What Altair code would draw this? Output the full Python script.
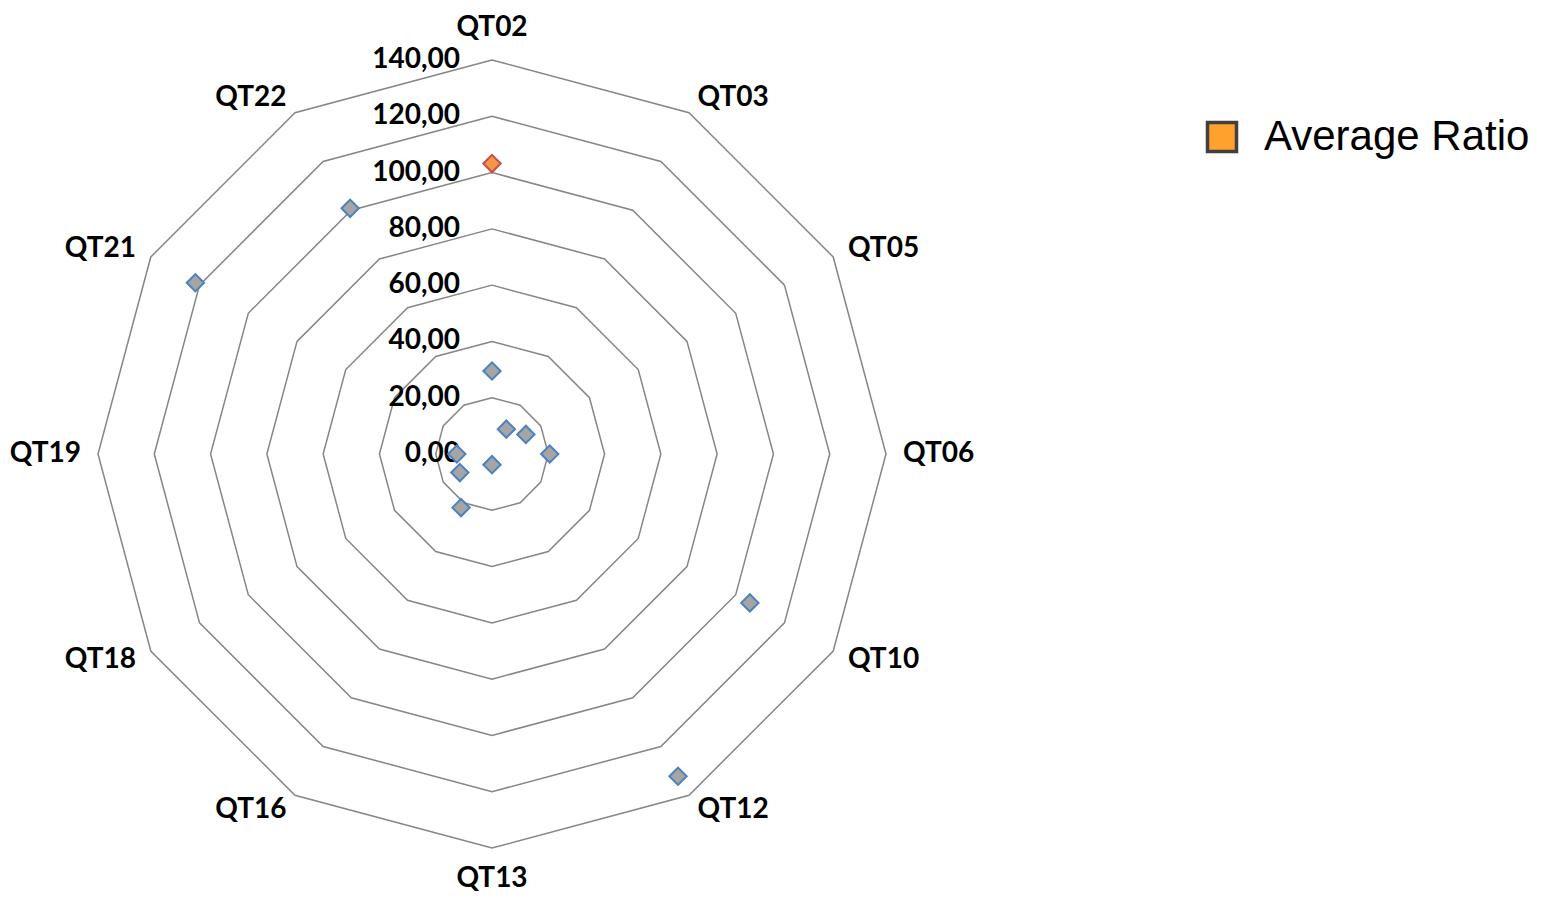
import altair as alt
import pandas as pd

# ---- data ----
categories = ["QT02", "QT03", "QT05", "QT06", "QT10", "QT12",
              "QT13", "QT16", "QT18", "QT19", "QT21", "QT22"]
ratio_values = [29.5, 10.2, 13.9, 20.5, 105.8, 132.2,
                3.8, 22.0, 13.2, 12.5, 121.7, 100.8]
highlight_category = "QT02"
highlight_value = 103.2
grid_levels = [20, 40, 60, 80, 100, 120, 140]
tick_values = [0, 20, 40, 60, 80, 100, 120, 140]
tick_labels = ["0,00", "20,00", "40,00", "60,00", "80,00", "100,00", "120,00", "140,00"]
series_name = "Average Ratio"

# ---- layout ----
W, H = 1532, 884
K = 394 / 140.0          # pixels per unit
CX, CY = 484, 446        # centre of the radar inside the chart
x_dom = [-CX / K, (W - CX) / K]
y_dom = [-(H - CY) / K, CY / K]
xs = alt.Scale(domain=x_dom, nice=False, zero=False)
ys = alt.Scale(domain=y_dom, nice=False, zero=False)

FONT = "Lato"
FS = 28

pts = pd.DataFrame({"category": categories, "idx": list(range(len(categories))),
                    "value": ratio_values})
hl = pd.DataFrame({"category": [highlight_category],
                   "idx": [categories.index(highlight_category)],
                   "value": [highlight_value], "series": [series_name]})
grid = pd.DataFrame([{"level": lv, "k": k} for lv in grid_levels for k in range(13)])
ticks = pd.DataFrame({"v": tick_values, "label": tick_labels})
labs = pd.DataFrame({"category": categories, "idx": list(range(len(categories)))})


def polar(ch, rfield):
    return (ch.transform_calculate(theta="datum.idx * PI / 6")
              .transform_calculate(px=f"{rfield} * sin(datum.theta)")
              .transform_calculate(py=f"{rfield} * cos(datum.theta)"))


X = alt.X("px:Q", scale=xs, axis=None)
Y = alt.Y("py:Q", scale=ys, axis=None)

grid_layer = (alt.Chart(grid)
              .transform_calculate(theta="datum.k * PI / 6")
              .transform_calculate(px="datum.level * sin(datum.theta)")
              .transform_calculate(py="datum.level * cos(datum.theta)")
              .mark_line(color="#868686", strokeWidth=1.5)
              .encode(x=X, y=Y, detail="level:N", order="k:Q"))

tick_layer = (alt.Chart(ticks)
              .transform_calculate(px=f"{-32 / K}")
              .transform_calculate(py="datum.v")
              .mark_text(align="right", baseline="middle", font=FONT,
                         fontWeight="bold", fontSize=FS, color="black")
              .encode(x=X, y=Y, text="label:N"))

R_SIDE = 411 / K
R_TOP = 418 / K
R_BOT = 433 / K

lab_right = (polar(alt.Chart(labs), str(R_SIDE))
             .transform_filter("datum.idx >= 1 && datum.idx <= 5")
             .mark_text(align="left", baseline="middle", font=FONT,
                        fontWeight="bold", fontSize=FS, color="black")
             .encode(x=X, y=Y, text="category:N"))
lab_left = (polar(alt.Chart(labs), str(R_SIDE))
            .transform_filter("datum.idx >= 7")
            .mark_text(align="right", baseline="middle", font=FONT,
                       fontWeight="bold", fontSize=FS, color="black")
            .encode(x=X, y=Y, text="category:N"))
lab_top = (polar(alt.Chart(labs), str(R_TOP))
           .transform_filter("datum.idx == 0")
           .mark_text(align="center", baseline="alphabetic", font=FONT,
                      fontWeight="bold", fontSize=FS, color="black")
           .encode(x=X, y=Y, text="category:N"))
lab_bot = (polar(alt.Chart(labs), str(R_BOT))
           .transform_filter("datum.idx == 6")
           .mark_text(align="center", baseline="alphabetic", font=FONT,
                      fontWeight="bold", fontSize=FS, color="black")
           .encode(x=X, y=Y, text="category:N"))

pt_layer = (polar(alt.Chart(pts), "datum.value")
            .mark_point(shape="diamond", filled=True, fill="#A5A5A5",
                        stroke="#4F81BD", strokeWidth=2, size=300, opacity=1)
            .encode(x=X, y=Y))

# legend carrier (tiny mark hidden under the highlighted point)
legend_layer = (polar(alt.Chart(hl), "datum.value")
                .mark_point(shape="square", filled=True, size=1, opacity=1)
                .encode(x=X, y=Y,
                        fill=alt.Fill("series:N",
                                      scale=alt.Scale(domain=[series_name], range=["#FFA12D"]),
                                      legend=alt.Legend(
                                          orient="none", legendX=1193, legendY=108,
                                          title=None, padding=0,
                                          symbolType="square", symbolSize=841,
                                          symbolStrokeWidth=3.5, symbolStrokeColor="#404040",
                                          symbolOpacity=1,
                                          labelFont="Liberation Sans", labelFontSize=42,
                                          labelColor="black", labelOffset=21,
                                          labelLimit=600))))

hl_layer = (polar(alt.Chart(hl), "datum.value")
            .mark_point(shape="diamond", filled=True, fill="#F79646", stroke="#C0504D",
                        strokeWidth=2, size=300, opacity=1)
            .encode(x=X, y=Y))

chart = (alt.layer(grid_layer, tick_layer, lab_right, lab_left, lab_top, lab_bot,
                   pt_layer, legend_layer, hl_layer)
         .properties(width=W, height=H, padding=0, background="white",
                     autosize=alt.AutoSizeParams(type="none"))
         .configure_view(stroke=None, strokeWidth=0))

chart.save("out.html", embed_options={"renderer": "svg", "actions": False})
